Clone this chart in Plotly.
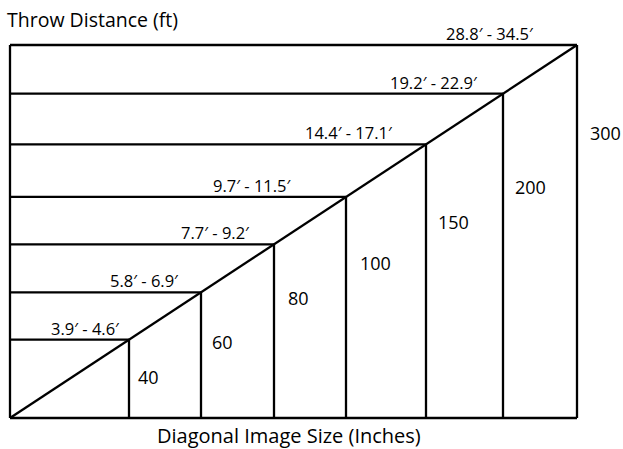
import plotly.graph_objects as go

# ---- data ----
sizes = [40, 60, 80, 100, 150, 200, 300]            # diagonal image size (inches)
throw_ranges = ["3.9′ - 4.6′", "5.8′ - 6.9′", "7.7′ - 9.2′", "9.7′ - 11.5′",
                "14.4′ - 17.1′", "19.2′ - 22.9′", "28.8′ - 34.5′"]
y_title = "Throw Distance (ft)"
x_title = "Diagonal Image Size (Inches)"

# ---- schematic layout (diagram units) ----
W, H = 567, 373                                      # extent of the diagram
step_x = [119, 191, 264, 336, 416, 493, 567]         # schematic column positions
size_label_pos = [(138, 41), (212, 76), (288, 120), (365, 155), (443, 196), (520, 231), (595, 285)]
range_label_x = [76, 134.5, 205.5, 242, 339.5, 424, 480]
XR = [-2, 569]
YR = [-2, 375]

slope = H / W
step_y = [x * slope for x in step_x]


def px(x):
    return (x - XR[0]) / (XR[1] - XR[0])


def py(y):
    return (y - YR[0]) / (YR[1] - YR[0])


xs, ys = [], []
xs += [0, 0, None, 0, W, None]
ys += [H, 0, None, 0, 0, None]
xs += [0, W, None]
ys += [0, H, None]
for x, y in zip(step_x, step_y):
    xs += [x, x, None, 0, x, None]
    ys += [0, y, None, y, y, None]

fig = go.Figure()
fig.add_trace(go.Scatter(x=xs, y=ys, mode="lines",
                         line=dict(color="black", width=2.3),
                         hoverinfo="skip", showlegend=False))

font = "Open Sans, sans-serif"
ann = []
for s, (lx, ly) in zip(sizes, size_label_pos):
    ann.append(dict(x=px(lx), y=py(ly), xref="paper", yref="paper", text=str(s), showarrow=False,
                    xanchor="center", yanchor="middle",
                    font=dict(family=font, size=18, color="black")))
for t, lx, y in zip(throw_ranges, range_label_x, step_y):
    ann.append(dict(x=px(lx), y=py(y), xref="paper", yref="paper", text=t, showarrow=False,
                    xanchor="center", yanchor="bottom", yshift=-2,
                    font=dict(family=font, size=16.5, color="black")))
ann.append(dict(x=px(-5), y=py(398), xref="paper", yref="paper", text=y_title, showarrow=False,
                xanchor="left", yanchor="middle", font=dict(family=font, size=19.5, color="black")))
ann.append(dict(x=px(279), y=py(-17), xref="paper", yref="paper", text=x_title, showarrow=False,
                xanchor="center", yanchor="middle", font=dict(family=font, size=20, color="black")))

fig.update_layout(
    width=623, height=449,
    margin=dict(l=8, r=44, t=43, b=29),
    paper_bgcolor="white", plot_bgcolor="white",
    xaxis=dict(range=XR, visible=False, fixedrange=True),
    yaxis=dict(range=YR, visible=False, fixedrange=True),
    annotations=ann,
)
fig.write_html("out.html", config={"displayModeBar": False},
               post_script="document.body.style.margin='0';")
